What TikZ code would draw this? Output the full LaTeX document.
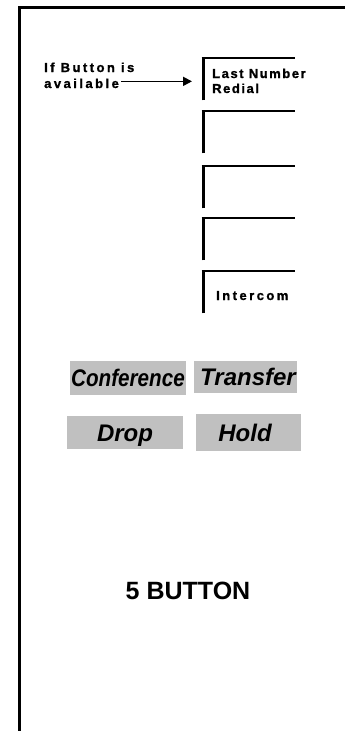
\documentclass[tikz,border=0pt]{standalone}
\usepackage{fontspec}
\setmainfont{Liberation Sans}
\newfontfamily\notefont[LetterSpace=19,FakeBold=1.2]{Liberation Sans Bold}
\newfontfamily\notefontb[LetterSpace=12,FakeBold=1.2]{Liberation Sans Bold}
\usetikzlibrary{arrows.meta}
\definecolor{btngray}{HTML}{C0C0C0}
\begin{document}
\begin{tikzpicture}[x=1pt,y=-1pt,
  frame/.style={line width=3pt},
  btn/.style={minimum width=92pt,minimum height=42pt,inner sep=0pt,anchor=north west},
  bracketv/.style={line width=3pt},
  bracketh/.style={line width=2.2pt},
  note/.style={font=\notefont\fontsize{13}{15}\selectfont,inner sep=0pt,anchor=base west},
  noteb/.style={note,font=\notefontb\fontsize{13}{15}\selectfont},
  key/.style={fill=btngray,inner sep=0pt,font=\bfseries\itshape\fontsize{24}{24}\selectfont,text height=17pt,text depth=0pt},
  arr/.style={line width=1.7pt,-{Triangle[length=9pt,width=9pt]}}]
\useasboundingbox (0,0) rectangle (347,731);
\draw[frame] (19,731) -- (19,7.5) -- (345,7.5);
\foreach \n/\y in {1/58,2/111,3/166,4/218,5/271}{
  \node[btn] (b\n) at (203,\y) {};
  \draw[bracketv] (b\n.south west) -- ([yshift=1.1pt]b\n.north west);
  \draw[bracketh] ([xshift=-1.5pt]b\n.north west) -- (b\n.north east);
}
\node[noteb] (lnr1) at (212,78) {Last Number};
\node[noteb] (lnr2) at (212,93) {Redial};
\node[note] (icom) at (216,300) {Intercom};
\node[note] (if1) at (44,72) {If Button is};
\node[note] (if2) at (44,88) {available};
\draw[arr] ([xshift=2pt,yshift=2pt]if2.east) -- ([xshift=-11pt,yshift=2pt]if2.east -| b1.west);
\node[key,minimum width=116pt,minimum height=34pt] (conf) at (128,378) {\scalebox{0.86}[1]{Conference}};
\node[key,minimum width=103pt,minimum height=32pt] (xfer) at (245.5,377) {\hspace*{5pt}Transfer};
\node[key,minimum width=116pt,minimum height=33pt] (drop) at (125,432.5) {Drop};
\node[key,minimum width=105pt,minimum height=37pt] (hold) at (248.5,432.5) {Hold\hspace*{7pt}};
\node[font=\bfseries\fontsize{25}{25}\selectfont,inner sep=0pt] (title) at (188,591) {5 BUTTON};
\end{tikzpicture}
\end{document}
